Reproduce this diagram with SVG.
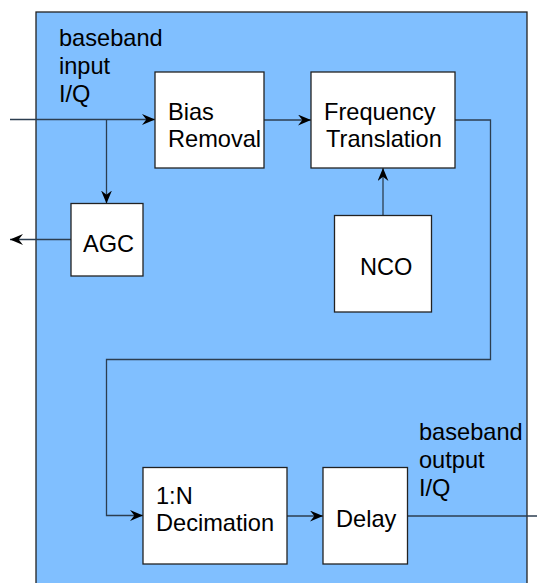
<svg xmlns="http://www.w3.org/2000/svg" width="537" height="583" viewBox="0 0 537 583">
<style>
.bg{fill:#80bfff;stroke:#222;stroke-width:1.3}
.box{fill:#fff;stroke:#222;stroke-width:1.3}
.t{font-family:"Liberation Sans",Arial,sans-serif;font-size:23.6px;fill:#000}
.c{fill:none;stroke:#2c3e50;stroke-width:1.3}
</style>
<defs>
<marker id="ah" viewBox="0 0 12 10" refX="12" refY="5" markerWidth="13" markerHeight="11" markerUnits="userSpaceOnUse" orient="auto">
<path d="M0,0 L12,5 L0,10 L4,5 Z" fill="#000"/>
</marker>
</defs>
<rect class="bg" x="36" y="12" width="491" height="580"/>
<text class="t" x="59" y="46">baseband</text>
<text class="t" x="59" y="74">input</text>
<text class="t" x="59" y="102">I/Q</text>
<text class="t" x="419" y="440">baseband</text>
<text class="t" x="419" y="468">output</text>
<text class="t" x="419" y="496">I/Q</text>
<g id="connectors">
<path class="c" d="M10,119.5 H155" marker-end="url(#ah)"/>
<path class="c" d="M106.5,119.5 V203.5" marker-end="url(#ah)"/>
<path class="c" d="M71,239.5 H10" marker-end="url(#ah)"/>
<path class="c" d="M264,120 H311" marker-end="url(#ah)"/>
<path class="c" d="M383,215.5 V168" marker-end="url(#ah)"/>
<path class="c" d="M455,120 H490.5 V359.5 H106.5 V515.5 H143" marker-end="url(#ah)"/>
<path class="c" d="M287,516 H323" marker-end="url(#ah)"/>
<path class="c" d="M407.5,516 H537"/>
</g>
<g id="bias"><rect class="box" x="155" y="72" width="109" height="96"/><text class="t" x="168" y="120">Bias</text><text class="t" x="168" y="147">Removal</text></g>
<g id="freq"><rect class="box" x="311" y="72" width="144" height="96"/><text class="t" x="324" y="120">Frequency</text><text class="t" x="326" y="147">Translation</text></g>
<g id="agc"><rect class="box" x="71" y="203.5" width="72" height="72.5"/><text class="t" x="83" y="251.5">AGC</text></g>
<g id="nco"><rect class="box" x="334.5" y="215.5" width="97" height="96.5"/><text class="t" x="360" y="275">NCO</text></g>
<g id="decimation"><rect class="box" x="143" y="467.5" width="144" height="96.5"/><text class="t" x="156" y="504">1:N</text><text class="t" x="156" y="530.5">Decimation</text></g>
<g id="delay"><rect class="box" x="323" y="467.5" width="84.5" height="96.5"/><text class="t" x="336" y="526.5">Delay</text></g>
</svg>
